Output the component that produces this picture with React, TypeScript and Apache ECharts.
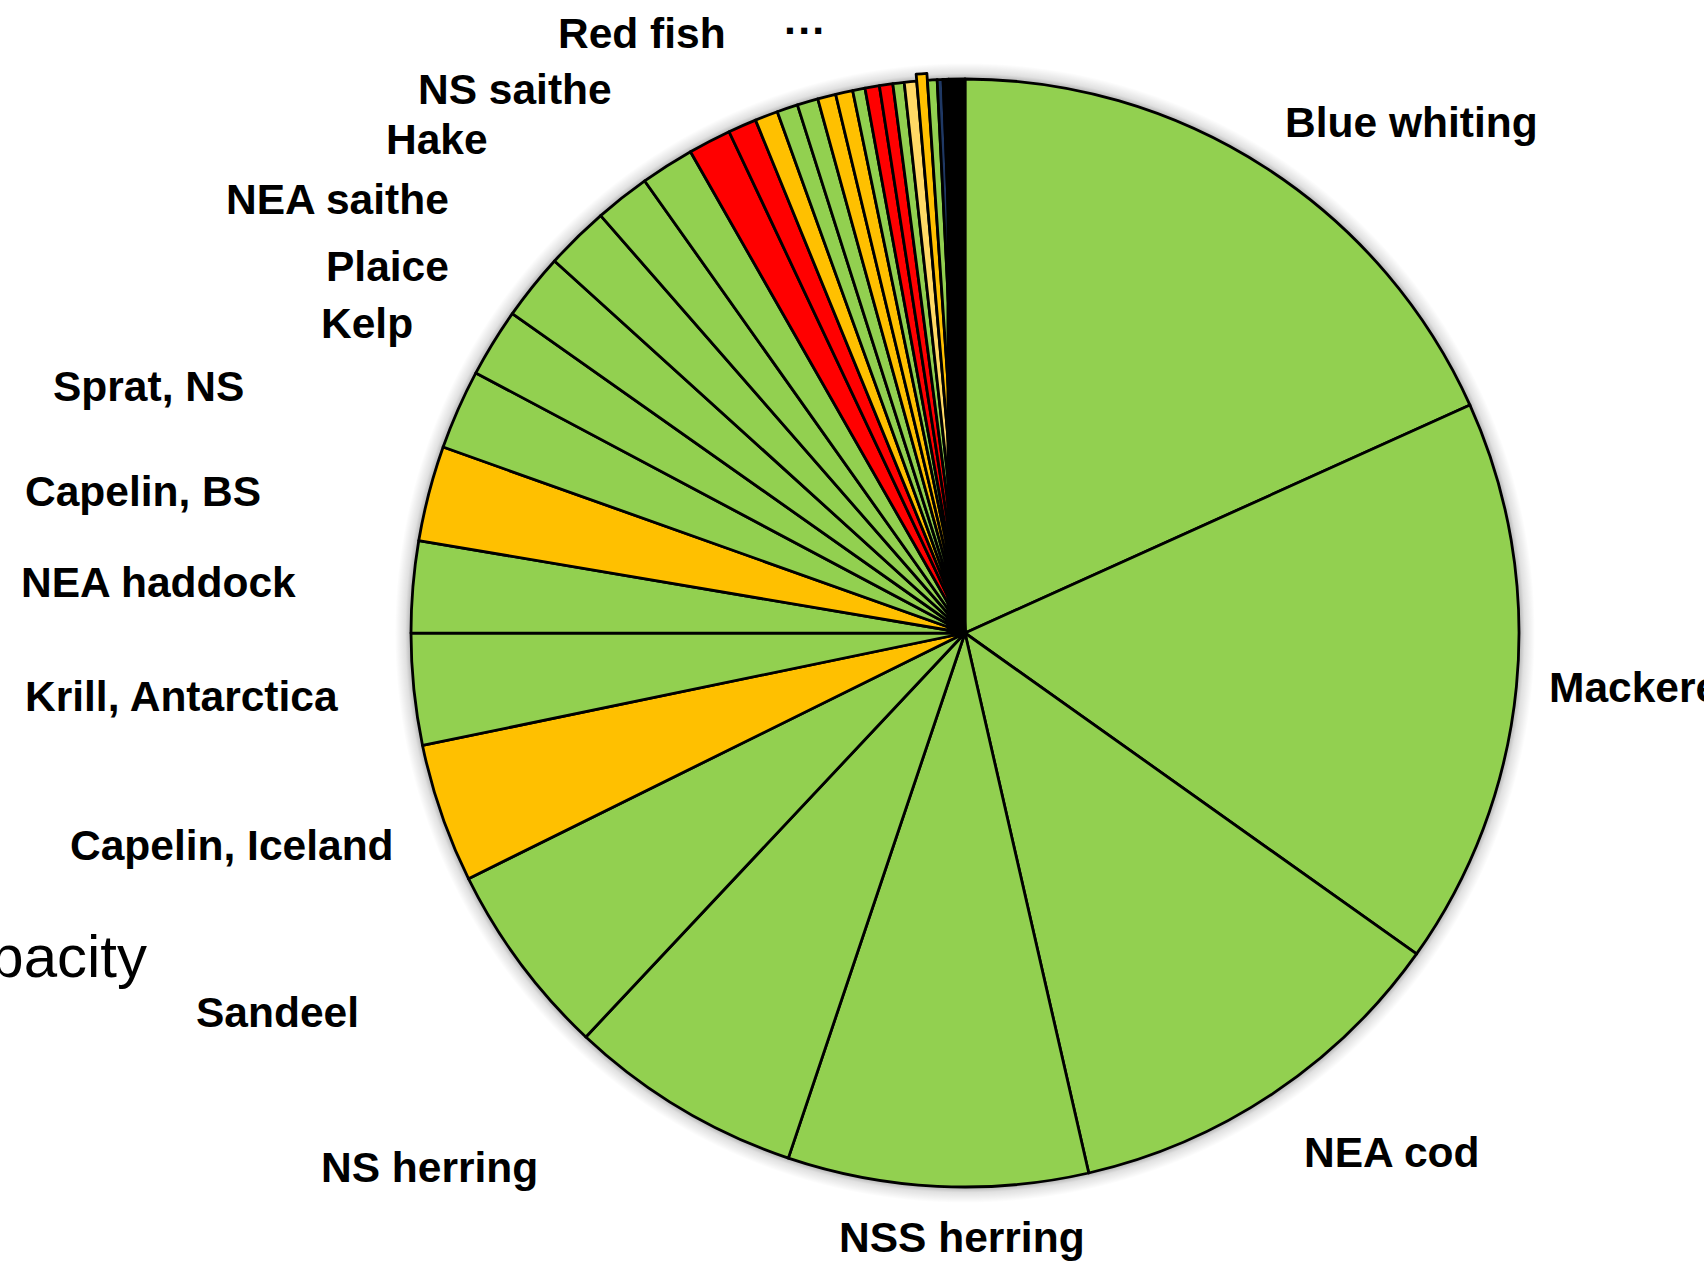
import React, { useEffect, useRef } from "react";
import * as echarts from "echarts";

// ---- data ----
const STOCKS: string[] = [
  "Blue whiting", "Mackerel", "NEA cod", "NSS herring", "NS herring", "Sandeel",
  "Capelin, Iceland", "Krill, Antarctica", "NEA haddock", "Capelin, BS", "Sprat, NS",
  "Kelp", "Plaice", "NEA saithe", "Hake", "NS saithe", "Red fish",
  "", "", "", "", "", "", "", "", "", "", "", "", "", "", "", "",
  "···",
];

// share of total (%)
const SHARES: number[] = [
  18.25, 16.58, 11.58, 8.75, 6.83, 5.69, 4.06, 3.25, 2.67, 2.78, 2.33, 2.0, 1.94, 1.86, 1.61, 1.56,
  1.25, 0.83, 0.67, 0.61, 0.61, 0.53, 0.5, 0.36, 0.42, 0.39, 0.33, 0.36, 0.31, 0.28, 0.17, 0.08, 0.08,
  0.47,
];

// status class of each stock
const STATUS: string[] = [
  "g", "g", "g", "g", "g", "g", "y", "g", "g", "y", "g", "g", "g", "g", "g", "g",
  "r", "r", "y", "g", "g", "y", "y", "g", "r", "r", "g", "ly", "y", "g", "n", "g", "b",
  "k",
];

const EXPLODED_INDEX = 28;

// ---- styles / layout ----
const STATUS_COLORS: Record<string, string> = {
  g: "#92D050",
  y: "#FFC000",
  r: "#FF0000",
  ly: "#FFD966",
  n: "#1F3864",
  b: "#843C0C",
  k: "#000000",
};

const LABEL_POS: Record<string, [number, number]> = {
  "Blue whiting": [1285, 122],
  "Mackerel": [1549, 687],
  "NEA cod": [1304, 1152],
  "NSS herring": [839, 1237],
  "NS herring": [321, 1167],
  "Sandeel": [196, 1012],
  "Capelin, Iceland": [70, 845],
  "Krill, Antarctica": [25, 696],
  "NEA haddock": [21, 582],
  "Capelin, BS": [25, 491],
  "Sprat, NS": [53, 386],
  "Kelp": [321, 323],
  "Plaice": [326, 266],
  "NEA saithe": [226, 199],
  "Hake": [386, 139],
  "NS saithe": [418, 89],
  "Red fish": [558, 33],
  "···": [784, 30],
};

const CENTER: [number, number] = [965, 633];
const RADIUS = 554;
const SHADOW_SPREAD = 16;
const FONT = '"Liberation Sans", Arial, Helvetica, sans-serif';

export default function App() {
  const ref = useRef<HTMLDivElement>(null);

  useEffect(() => {
    if (!ref.current) return;
    const chart = echarts.init(ref.current, null, { renderer: "svg" });
    const total = SHARES.reduce((a, b) => a + b, 0);

    const data = STOCKS.map((name, i) => ({
      name: name || `stock-${i + 1}`,
      value: SHARES[i],
      selected: i === EXPLODED_INDEX,
      itemStyle: { color: STATUS_COLORS[STATUS[i]] },
      label: { show: !!name },
    }));

    const blackShare = SHARES[SHARES.length - 1];
    const bandValue = blackShare * 0.0006;
    const edge = RADIUS / (RADIUS + SHADOW_SPREAD);

    chart.setOption({
      animation: false,
      backgroundColor: "#ffffff",
      graphic: [
        {
          type: "text",
          z: 10,
          style: {
            text: "capacity",
            x: 147,
            y: 956,
            align: "right",
            verticalAlign: "middle",
            font: `60px ${FONT}`,
            fill: "#000000",
          },
        },
      ],
      series: [
        {
          type: "pie",
          z: 1,
          silent: true,
          center: CENTER,
          radius: RADIUS + SHADOW_SPREAD,
          startAngle: 90,
          label: { show: false },
          labelLine: { show: false },
          emphasis: { disabled: true },
          itemStyle: {
            borderWidth: 0,
            color: {
              type: "radial",
              x: 0.5,
              y: 0.5,
              r: 0.5,
              colorStops: [
                { offset: 0, color: "rgba(0,0,0,0.3)" },
                { offset: edge, color: "rgba(0,0,0,0.3)" },
                { offset: edge + (1 - edge) * 0.35, color: "rgba(0,0,0,0.12)" },
                { offset: 1, color: "rgba(0,0,0,0)" },
              ],
            },
          },
          data: [{ name: "shadow", value: total }],
        },
        {
          type: "pie",
          z: 2,
          center: CENTER,
          radius: RADIUS,
          startAngle: 90,
          clockwise: true,
          avoidLabelOverlap: false,
          selectedMode: "multiple",
          selectedOffset: 7,
          emphasis: { disabled: true },
          select: { itemStyle: { borderColor: "#000000", borderWidth: 2.8 } },
          itemStyle: { borderColor: "#000000", borderWidth: 2.8 },
          label: {
            show: true,
            position: "outside",
            color: "#000000",
            fontFamily: FONT,
            fontWeight: "bold",
            fontSize: 42.5,
            formatter: (p: any) => p.name,
          },
          labelLine: { show: false },
          labelLayout: (p: any) => {
            const pos = LABEL_POS[STOCKS[p.dataIndex]];
            if (!pos) return {};
            return { x: pos[0], y: pos[1], align: "left", verticalAlign: "middle" };
          },
          data,
        },
        {
          type: "pie",
          z: 3,
          silent: true,
          center: [CENTER[0] - 9, CENTER[1]],
          radius: RADIUS - 9.5,
          startAngle: 90,
          label: { show: false },
          labelLine: { show: false },
          emphasis: { disabled: true },
          data: [
            {
              name: "band",
              value: bandValue,
              itemStyle: {
                color: "#000000",
                borderColor: "#000000",
                borderWidth: 19,
                borderJoin: "miter",
              },
            },
            {
              name: "rest",
              value: total - bandValue,
              itemStyle: { color: "rgba(0,0,0,0)", borderWidth: 0 },
            },
          ],
        },
      ],
    });

    return () => chart.dispose();
  }, []);

  return (
    <div
      ref={ref}
      style={{ position: "fixed", left: 0, top: 0, width: "1704px", height: "1269px" }}
    />
  );
}
